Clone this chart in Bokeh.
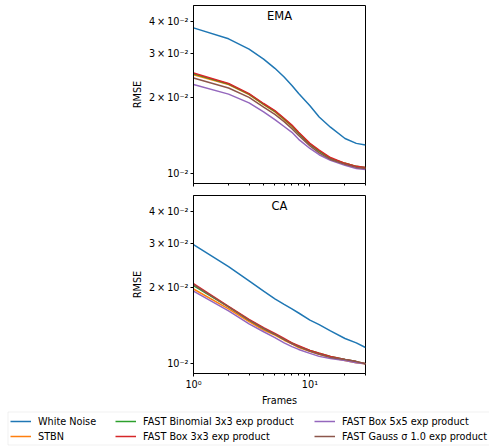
import math
from bokeh.plotting import figure
from bokeh.models import Range1d, FixedTicker, Label, Legend, LegendItem, BoxAnnotation
from bokeh.layouts import column
from bokeh.embed import file_html
from bokeh.resources import INLINE

frames = [1, 2, 3, 4, 5, 6, 7, 8, 10, 12, 15, 20, 25, 30]

series_names = ["White Noise", "STBN", "FAST Binomial 3x3 exp product",
                "FAST Box 3x3 exp product", "FAST Box 5x5 exp product",
                "FAST Gauss σ 1.0 exp product"]

# EMA panel
ema_white = [0.0379, 0.0343, 0.0312, 0.0285, 0.0262, 0.0242, 0.0224, 0.0208, 0.0186, 0.0168, 0.0153, 0.0138, 0.0132, 0.0130]
ema_stbn = [0.0247, 0.0226, 0.0206, 0.0188, 0.0176, 0.0164, 0.0154, 0.0145, 0.0131, 0.0123, 0.0115, 0.0110, 0.0107, 0.0105]
ema_binom3 = [0.0249, 0.0227, 0.0207, 0.0189, 0.0177, 0.0165, 0.0155, 0.0145, 0.0131, 0.0123, 0.0115, 0.0110, 0.0107, 0.0106]
ema_box3 = [0.0251, 0.0228, 0.0208, 0.0190, 0.0178, 0.0166, 0.0156, 0.0146, 0.0132, 0.0124, 0.0116, 0.0110, 0.0107, 0.0106]
ema_box5 = [0.0226, 0.0207, 0.0191, 0.0176, 0.0164, 0.0154, 0.0146, 0.0137, 0.0126, 0.0119, 0.0113, 0.0108, 0.0105, 0.0104]
ema_gauss = [0.0240, 0.0219, 0.0201, 0.0184, 0.0172, 0.0161, 0.0151, 0.0142, 0.0129, 0.0121, 0.0114, 0.0109, 0.0106, 0.0105]

# CA panel
ca_white = [0.0297, 0.0243, 0.0213, 0.0194, 0.0181, 0.0172, 0.0165, 0.0159, 0.0149, 0.0143, 0.0135, 0.0126, 0.0121, 0.0116]
ca_stbn = [0.0198, 0.0165, 0.0147, 0.0136, 0.0130, 0.0124, 0.0120, 0.0116, 0.0112, 0.0109, 0.0106, 0.0103, 0.0101, 0.0100]
ca_binom3 = [0.0204, 0.0168, 0.0149, 0.0138, 0.0131, 0.0125, 0.0121, 0.0117, 0.0113, 0.0110, 0.0107, 0.0104, 0.0102, 0.0100]
ca_box3 = [0.0208, 0.0169, 0.0150, 0.0139, 0.0132, 0.0126, 0.0121, 0.0118, 0.0113, 0.0110, 0.0107, 0.0104, 0.0102, 0.0100]
ca_box5 = [0.0194, 0.0162, 0.0144, 0.0134, 0.0127, 0.0121, 0.0117, 0.0114, 0.0110, 0.0107, 0.0105, 0.0103, 0.0101, 0.0100]
ca_gauss = [0.0206, 0.0168, 0.0149, 0.0138, 0.0131, 0.0125, 0.0120, 0.0117, 0.0112, 0.0109, 0.0106, 0.0104, 0.0102, 0.0100]

y_ticks = [0.01, 0.02, 0.03, 0.04]
y_tick_labels = ["10⁻²", "2\u2009×\u200910⁻²", "3\u2009×\u200910⁻²", "4\u2009×\u200910⁻²"]
x_ticks = [1, 10]
x_tick_labels = ["10⁰", "10¹"]
x_minor = [2, 3, 4, 5, 6, 7, 8, 9, 20, 30]

colors = ["#1f77b4", "#ff7f0e", "#2ca02c", "#d62728", "#9467bd", "#8c564b"]
FONT = "DejaVu Sans"
FS = "9.7px"

panels = [
    ("EMA", [ema_white, ema_stbn, ema_binom3, ema_box3, ema_box5, ema_gauss]),
    ("CA", [ca_white, ca_stbn, ca_binom3, ca_box3, ca_box5, ca_gauss]),
]

FW, FH = 172, 178
LEFT = 193

figs = []
for i, (title, data) in enumerate(panels):
    last = i == len(panels) - 1
    p = figure(x_axis_type="log", y_axis_type="log",
               frame_width=FW, frame_height=FH,
               x_range=Range1d(1, 30), y_range=Range1d(0.00915, 0.0465),
               min_border_left=LEFT, min_border_right=20,
               min_border_top=0 if last else 5, min_border_bottom=34 if last else 12,
               output_backend="svg", toolbar_location=None)
    p.xgrid.visible = False
    p.ygrid.visible = False
    p.outline_line_color = "black"
    p.outline_line_alpha = 1
    p.outline_line_width = 1
    for name, ys, c in zip(series_names, data, colors):
        p.line(frames, ys, line_color=c, line_width=1.5)

    p.yaxis.ticker = FixedTicker(ticks=y_ticks, minor_ticks=[])
    p.yaxis.major_label_overrides = dict(zip(y_ticks, y_tick_labels))
    p.yaxis.axis_label = "RMSE"
    p.xaxis.ticker = FixedTicker(ticks=x_ticks, minor_ticks=x_minor)
    if last:
        p.xaxis.major_label_overrides = dict(zip(x_ticks, x_tick_labels))
        p.xaxis.axis_label = "Frames"
        p.xaxis.major_label_standoff = 2
        p.xaxis.axis_label_standoff = 2
    else:
        p.xaxis.major_label_overrides = {t: "" for t in x_ticks}
        p.xaxis.major_label_text_font_size = "1px"
        p.xaxis.major_label_standoff = 0

    for ax in p.axis:
        ax.axis_line_color = "black"
        ax.major_tick_line_color = "black"
        ax.minor_tick_line_color = "black"
        ax.major_tick_in = 0
        ax.major_tick_out = 3
        ax.minor_tick_in = 0
        ax.minor_tick_out = 2
        ax.major_label_text_color = "black"
        ax.major_label_text_font = FONT
        ax.axis_label_text_font = FONT
        ax.axis_label_text_font_size = FS
        ax.axis_label_text_font_style = "normal"
        ax.axis_label_text_color = "black"
    p.yaxis.major_label_text_font_size = FS
    if last:
        p.xaxis.major_label_text_font_size = FS
    p.yaxis.major_label_standoff = 2
    p.yaxis.axis_label_standoff = 3

    p.add_layout(Label(x=math.sqrt(30), y=0.0422, text=title, text_align="center",
                       text_baseline="middle", text_font=FONT, text_font_size="11.5px",
                       text_color="black"))
    figs.append(p)

# legend strip (separate root so its frame is not aligned with the panels)
LW, LH = 489, 40
lf = figure(width=LW, height=LH, x_range=Range1d(0, LW), y_range=Range1d(0, LH),
            min_border=0, x_axis_location=None, y_axis_location=None,
            output_backend="svg", toolbar_location=None)
lf.outline_line_color = None
lf.xgrid.visible = False
lf.ygrid.visible = False
lf.add_layout(BoxAnnotation(left=7.5, right=700, bottom=3.5, top=36.5,
                            fill_color="white", fill_alpha=1,
                            line_color="#cccccc", line_width=1))
dummies = [lf.line(x=[-100, -90], y=[-100, -100], line_color=c, line_width=1.5) for c in colors]
col_x = [10, 115, 314]
for k in range(3):
    items = [LegendItem(label=series_names[2 * k + j], renderers=[dummies[2 * k + j]]) for j in range(2)]
    leg = Legend(items=items, location=(col_x[k], 6), orientation="vertical",
                 border_line_color=None, background_fill_alpha=0,
                 padding=0, margin=0, spacing=3, glyph_width=21, glyph_height=12,
                 label_standoff=7, label_height=12,
                 label_text_font=FONT, label_text_font_size=FS, label_text_color="black")
    lf.add_layout(leg)

layout = column(figs[0], figs[1], spacing=0)
open("out.html", "w").write(file_html([layout, lf], INLINE))
